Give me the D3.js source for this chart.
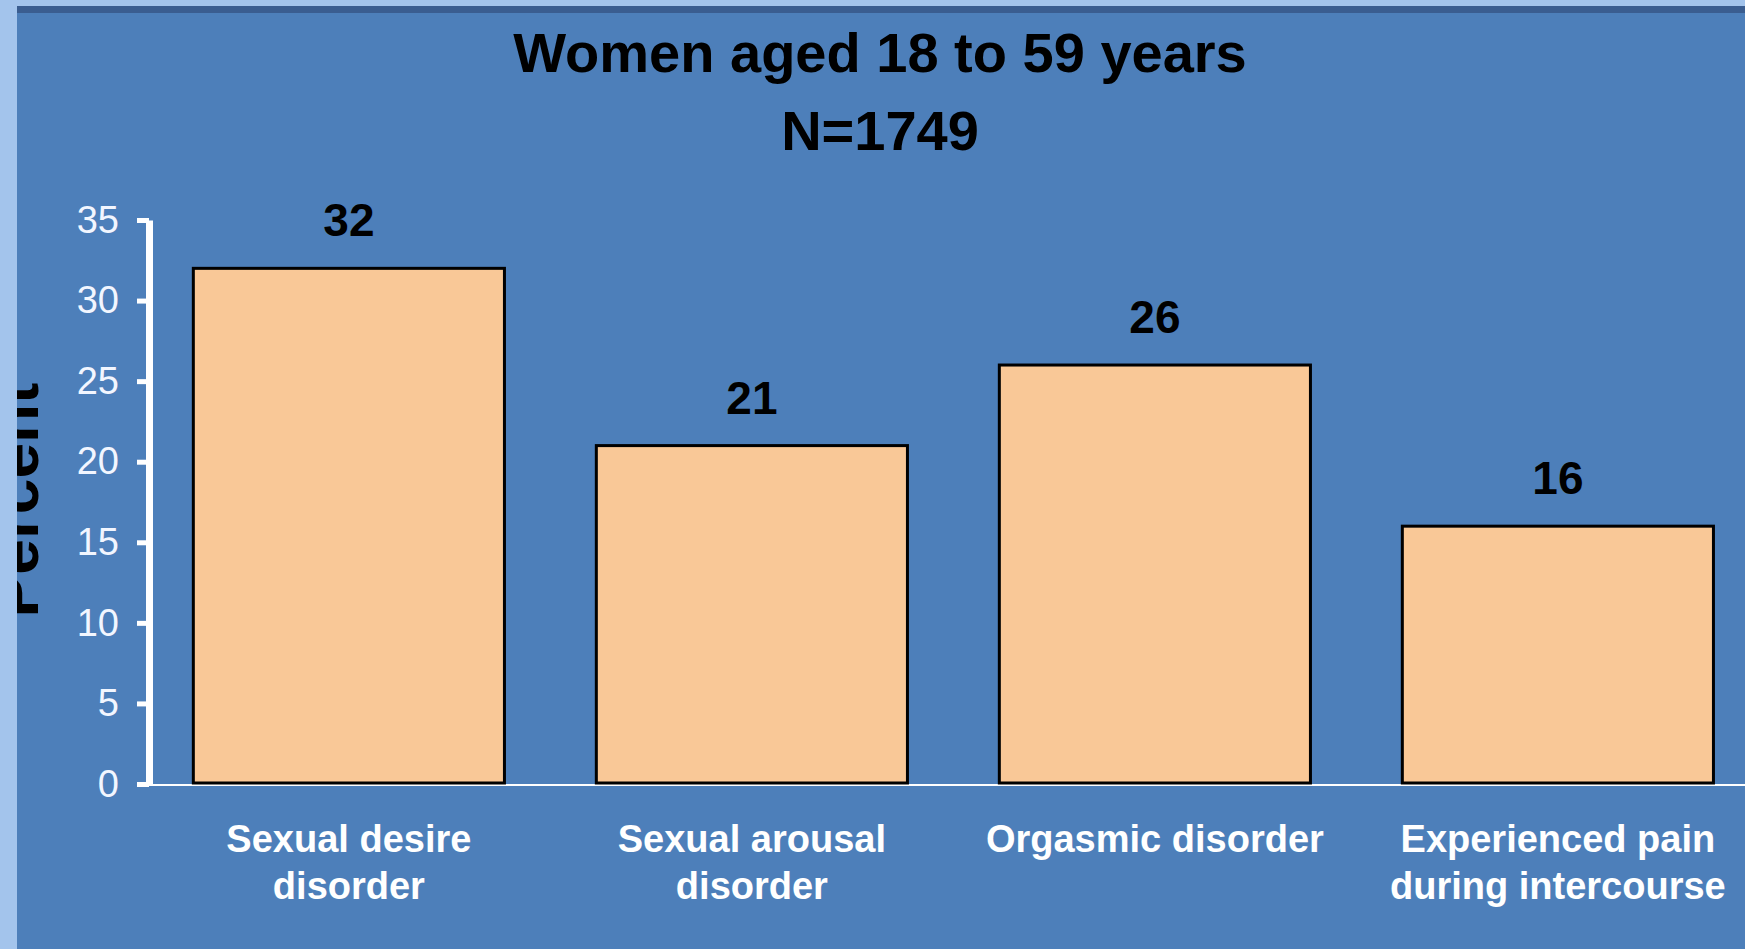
<!DOCTYPE html>
<html>
  <head>
    <title>Women aged 18 to 59 years</title>
    <script src="https://d3js.org/d3.v7.min.js"></script>
    <style>
      body { margin: 0; background: #4d7fba; }
      svg { display: block; }
      .tick text { font-family: "Liberation Sans", Arial, sans-serif; }
    </style>
  </head>
  <body>
    <div id="chart"></div>
    <script>
      // chart data
      const titleLines = ["Women aged 18 to 59 years", "N=1749"];
      const categories = [
        "Sexual desire|disorder",
        "Sexual arousal|disorder",
        "Orgasmic disorder",
        "Experienced pain|during intercourse",
      ];
      const values = [32, 21, 26, 16];
      const yTicks = [0, 5, 10, 15, 20, 25, 30, 35];
      const yLabel = "Percent";

      const W = 1745, H = 949;
      const x0 = 149, yBase = 784, yTop = 220;

      const svg = d3.select("#chart").append("svg").attr("width", W).attr("height", H);

      // background panels
      svg.append("rect").attr("width", W).attr("height", H).attr("fill", "#4d7fba");
      svg.append("rect").attr("x", 0).attr("y", 6).attr("width", W).attr("height", 7).attr("fill", "#3a5d90");

      const x = d3.scaleBand()
        .domain(categories)
        .range([x0, x0 + 403 * 3.992])
        .paddingInner(0.228)
        .paddingOuter(0.11);
      const y = d3.scaleLinear().domain([0, 35]).range([yBase, yTop]);

      // title
      svg.append("g")
        .selectAll("text")
        .data(titleLines)
        .join("text")
        .attr("x", 880)
        .attr("y", (d, i) => 72 + i * 78)
        .attr("text-anchor", "middle")
        .attr("font-family", "'Liberation Sans', Arial, sans-serif")
        .attr("font-weight", "bold")
        .attr("font-size", 56)
        .attr("fill", "#000")
        .text((d) => d);

      // x baseline
      svg.append("line")
        .attr("x1", x0).attr("x2", W)
        .attr("y1", yBase + 1).attr("y2", yBase + 1)
        .attr("stroke", "#fff").attr("stroke-width", 2);

      // bars
      svg.append("g")
        .selectAll("rect")
        .data(values)
        .join("rect")
        .attr("x", (d, i) => x(categories[i]))
        .attr("y", (d) => y(d))
        .attr("width", x.bandwidth())
        .attr("height", (d) => y(0) - y(d) - 1)
        .attr("fill", "#f9c897")
        .attr("stroke", "#000")
        .attr("stroke-width", 3);

      // value labels
      svg.append("g")
        .selectAll("text")
        .data(values)
        .join("text")
        .attr("x", (d, i) => x(categories[i]) + x.bandwidth() / 2)
        .attr("y", (d) => y(d) - 32)
        .attr("text-anchor", "middle")
        .attr("font-family", "'Liberation Sans', Arial, sans-serif")
        .attr("font-weight", "bold")
        .attr("font-size", 46)
        .attr("fill", "#000")
        .text((d) => d);

      // y axis
      const yAxis = svg.append("g")
        .attr("transform", `translate(${x0},0)`)
        .call(d3.axisLeft(y).tickValues(yTicks).tickSize(12).tickSizeOuter(0).tickPadding(18));
      yAxis.select(".domain").attr("stroke", "#fff").attr("stroke-width", 7);
      yAxis.selectAll(".tick line").attr("stroke", "#fff").attr("stroke-width", 5);
      yAxis.selectAll(".tick text")
        .attr("fill", "#f2f6ff")
        .attr("font-size", 38);

      // category labels
      const cat = svg.append("g")
        .selectAll("text")
        .data(categories)
        .join("text")
        .attr("text-anchor", "middle")
        .attr("font-family", "'Liberation Sans', Arial, sans-serif")
        .attr("font-weight", "bold")
        .attr("font-size", 38)
        .attr("fill", "#fff");
      cat.each(function (d) {
        const t = d3.select(this);
        const cx = x(d) + x.bandwidth() / 2;
        d.split("|").forEach((line, i) => {
          t.append("tspan").attr("x", cx).attr("y", 852 + i * 47).text(line);
        });
      });

      // y label (partly hidden behind the left panel)
      svg.append("text")
        .attr("transform", "translate(38,500) rotate(-90)")
        .attr("text-anchor", "middle")
        .attr("font-family", "'Liberation Sans', Arial, sans-serif")
        .attr("font-weight", "bold")
        .attr("font-size", 64)
        .attr("fill", "#000")
        .text(yLabel);

      // light frame strips
      svg.append("rect").attr("x", 0).attr("y", 0).attr("width", 17).attr("height", H).attr("fill", "#a3c4ec");
      svg.append("rect").attr("x", 0).attr("y", 0).attr("width", W).attr("height", 6).attr("fill", "#a3c4ec");
    </script>
  </body>
</html>
